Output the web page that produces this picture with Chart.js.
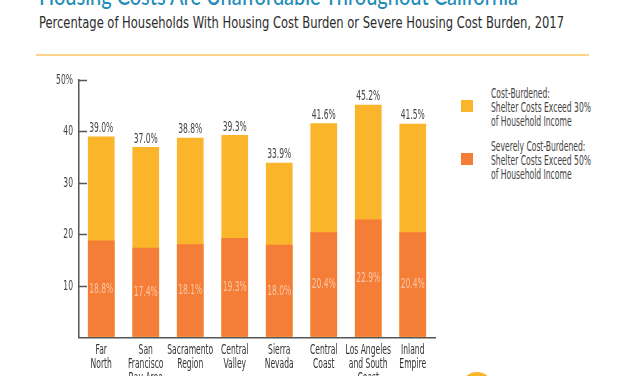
<!DOCTYPE html>
<html>
<head>
<meta charset="utf-8">
<script src="https://cdn.jsdelivr.net/npm/chart.js@4"></script>
<style>
  html, body { margin: 0; padding: 0; background: #fff; }
  body { width: 627px; height: 376px; overflow: hidden; position: relative; }
  .txt { position: absolute; white-space: nowrap; transform-origin: 0 0; }
  #title { left: 39px; top: -16px; font: 500 24px/24px Lato, "Open Sans", sans-serif; color: #1f8db6; }
  #subtitle { left: 39px; top: 14px; font-size: 15.5px; line-height: 18px; color: #2b2b2b; }
  #rule { position: absolute; left: 36px; top: 54px; width: 553px; height: 2px; background: #fcd58a; }
  #chartBox { position: absolute; left: 0; top: 60px; }
  .leg { position: absolute; left: 491px; font-size: 13.5px; line-height: 14px; color: #444; white-space: nowrap; transform-origin: 0 0; }
  .sw { position: absolute; left: 461px; width: 12px; height: 12px; }
  #dot { position: absolute; left: 461px; top: 372px; width: 32px; height: 32px; border-radius: 50%; background: #fbb52a; }
</style>
</head>
<body>
<div id="title" class="txt">Housing Costs Are Unaffordable Throughout California</div>
<div id="subtitle" class="txt">Percentage of Households With Housing Cost Burden or Severe Housing Cost Burden, 2017</div>
<div id="rule"></div>
<div id="chartBox"><canvas id="myChart" width="440" height="340"></canvas></div>
<div class="sw" style="top:100px;background:#fbb52a"></div>
<div class="leg" id="leg1" style="top:86px">Cost-Burdened:<br>Shelter Costs Exceed 30%<br>of Household Income</div>
<div class="sw" style="top:153px;background:#f47e37"></div>
<div class="leg" id="leg2" style="top:139px">Severely Cost-Burdened:<br>Shelter Costs Exceed 50%<br>of Household Income</div>
<div id="dot"></div>
<script>
'use strict'

let regions = [['Far', 'North'], ['San', 'Francisco', 'Bay Area'], ['Sacramento', 'Region'], ['Central', 'Valley'], ['Sierra', 'Nevada'], ['Central', 'Coast'], ['Los Angeles', 'and South', 'Coast'], ['Inland', 'Empire']];
let costBurdened = [39.0, 37.0, 38.8, 39.3, 33.9, 41.6, 45.2, 41.5];
let severelyBurdened = [18.8, 17.4, 18.1, 19.3, 18.0, 20.4, 22.9, 20.4];
let yTicks = [0, 10, 20, 30, 40, 50];

let yellow = '#fbb52a';
let orange = '#f47e37';
let axisColor = '#555';

// look for a condensed face, the original uses one
function hasFont(name) {
    let c = document.createElement('canvas').getContext('2d');
    let t = 'Sacramento Region 0123';
    c.font = '16px monospace';
    let a = c.measureText(t).width;
    c.font = '16px "' + name + '", monospace';
    return c.measureText(t).width !== a;
}
let narrow = ['Liberation Sans Narrow', 'DejaVu Sans Condensed', 'Roboto Condensed', 'Open Sans Condensed'].find(hasFont);
let narrowFamily = narrow ? '"' + narrow + '", Roboto, sans-serif' : 'Roboto, sans-serif';

document.getElementById('subtitle').style.fontFamily = narrowFamily;
document.getElementById('leg1').style.fontFamily = narrowFamily;
document.getElementById('leg2').style.fontFamily = narrowFamily;

// squeeze text to the width it has in the picture
function fitWidth(id, w) {
    let el = document.getElementById(id);
    let s = w / el.getBoundingClientRect().width;
    el.style.transform = 'scaleX(' + s + ')';
}
fitWidth('title', 479);
fitWidth('subtitle', 525);
fitWidth('leg1', 100);
fitWidth('leg2', 100);

let chartFont = '14px ' + narrowFamily;
let measureCtx = document.createElement('canvas').getContext('2d');
measureCtx.font = chartFont;
let squeeze = 46 / measureCtx.measureText('Sacramento').width;

function squeezedText(ctx, text, x, y) {
    ctx.save();
    ctx.translate(x, y);
    ctx.scale(squeeze, 1);
    ctx.fillText(text, 0, 0);
    ctx.restore();
}

// ticks go into the plot, labels are drawn narrow
let axisText = {
    id: 'axisText',
    afterDraw(chart) {
        let ctx = chart.ctx;
        let y = chart.scales.y;
        let x = chart.scales.x;
        let area = chart.chartArea;
        ctx.save();
        ctx.strokeStyle = axisColor;
        ctx.lineWidth = 1.5;
        ctx.font = chartFont;
        yTicks.forEach(function (v) {
            if (v === 0) return;
            let py = Math.round(y.getPixelForValue(v)) + 0.5;
            ctx.beginPath();
            ctx.moveTo(area.left, py);
            ctx.lineTo(area.left + 8, py);
            ctx.stroke();
            ctx.fillStyle = '#444';
            ctx.textAlign = 'right';
            ctx.textBaseline = 'middle';
            squeezedText(ctx, v === 50 ? v + '%' : String(v), area.left - 6, py);
        });
        ctx.fillStyle = '#333';
        ctx.textAlign = 'center';
        ctx.textBaseline = 'middle';
        regions.forEach(function (lines, i) {
            let px = x.getPixelForTick(i);
            lines.forEach(function (line, j) {
                squeezedText(ctx, line, px, area.bottom + 13 + j * 14);
            });
        });
        ctx.restore();
    }
};

let barLabels = {
    id: 'barLabels',
    afterDatasetsDraw(chart) {
        let ctx = chart.ctx;
        let y = chart.scales.y;
        let totalMeta = chart.getDatasetMeta(0);
        let severeMeta = chart.getDatasetMeta(1);
        ctx.save();
        ctx.textAlign = 'center';
        ctx.font = chartFont;
        for (let i = 0; i < costBurdened.length; i++) {
            let bar = totalMeta.data[i];
            ctx.fillStyle = '#444';
            ctx.textBaseline = 'bottom';
            squeezedText(ctx, costBurdened[i].toFixed(1) + '%', bar.x, bar.y - 1);
            let sb = severeMeta.data[i];
            ctx.fillStyle = 'rgba(255, 215, 190, 0.8)';
            ctx.textBaseline = 'middle';
            squeezedText(ctx, severelyBurdened[i].toFixed(1) + '%', sb.x, (sb.y + y.getPixelForValue(0)) / 2);
        }
        ctx.restore();
    }
};

let ctx = document.getElementById('myChart').getContext('2d');
let myChart = new Chart(ctx, {
    type: 'bar',
    data: {
        labels: regions,
        datasets: [{
            label: 'Cost-Burdened',
            data: costBurdened,
            backgroundColor: yellow,
            order: 2,
            grouped: false,
            barPercentage: 0.6,
            categoryPercentage: 1
        }, {
            label: 'Severely Cost-Burdened',
            data: severelyBurdened,
            backgroundColor: orange,
            order: 1,
            grouped: false,
            barPercentage: 0.6,
            categoryPercentage: 1
        }]
    },
    options: {
        responsive: false,
        animation: false,
        devicePixelRatio: 1,
        layout: { padding: { top: 20, right: 5, left: 0, bottom: 0 } },
        plugins: {
            legend: { display: false },
            tooltip: { enabled: false }
        },
        scales: {
            x: {
                grid: { display: false },
                border: { color: axisColor, width: 1.5 },
                ticks: { display: false },
                afterFit(scale) { scale.height = 62.7; }
            },
            y: {
                min: 0,
                max: 50,
                grid: { drawOnChartArea: false, drawTicks: false },
                border: { color: axisColor, width: 1.5 },
                ticks: { display: false, stepSize: 10 },
                afterFit(scale) { scale.width = 79; }
            }
        }
    },
    plugins: [axisText, barLabels]
});
</script>
</body>
</html>
